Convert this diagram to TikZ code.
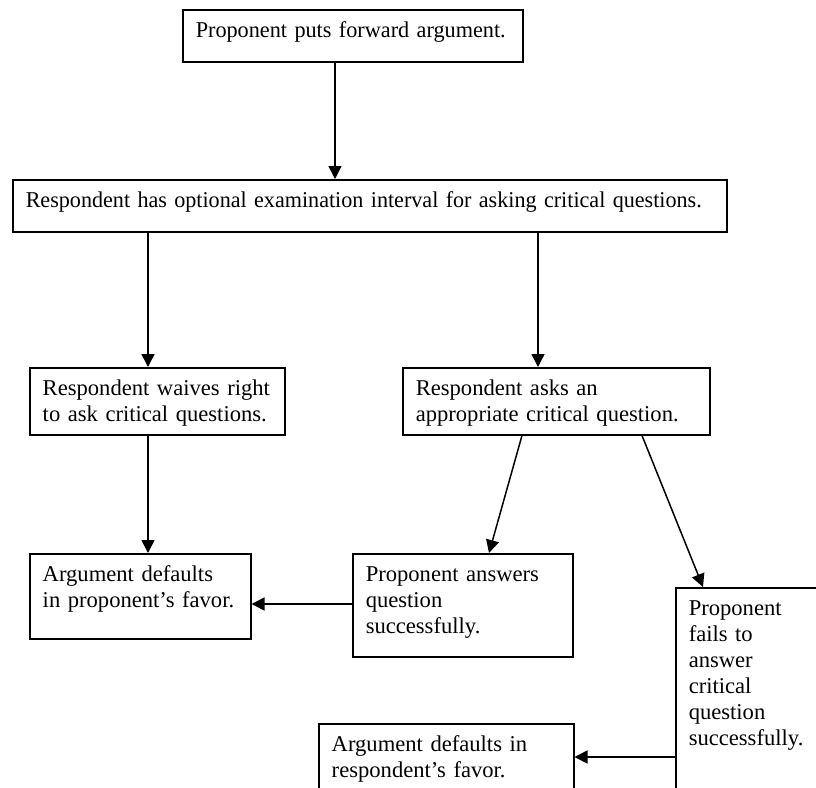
\documentclass[tikz,border=0pt]{standalone}
\usepackage{graphicx}
\usepackage{fontspec}
\setmainfont{Liberation Serif}
\usetikzlibrary{arrows.meta}

\begin{document}
\begin{tikzpicture}[x=.5pt, y=-.5pt, line width=.75pt, >={Triangle[length=6.5pt, width=6.5pt]},
	stage/.style={draw, anchor=north west, align=left, inner xsep=6.5pt, inner ysep=0pt,
		text height=14pt, font=\fontsize{11.3}{13}\selectfont}]
	\useasboundingbox (0, 0) rectangle (816, 788);
	\clip (0, 0) rectangle (816, 788);
	% boxes
	\node[stage, text width=157pt, text depth=12pt] (put) at (182, 9) {\resizebox{155pt}{\height}{Proponent puts forward argument.}};
	\node[stage, text width=344pt, text depth=12pt] (intv) at (12, 179) {\resizebox{338pt}{\height}{Respondent has optional examination interval for asking critical questions.}};
	\node[stage, text width=114.5pt, text depth=19.5pt] (waive) at (29, 367) {Respondent waives right\\to ask critical questions.};
	\node[stage, text width=140.5pt, text depth=19.5pt] (ask) at (402, 367) {Respondent asks an\\appropriate critical question.};
	\node[stage, text width=97.5pt, text depth=28.5pt] (pfavor) at (29, 553) {Argument defaults\\in proponent's favor.};
	\node[stage, text width=97pt, text depth=37.5pt] (answer) at (352, 553) {Proponent answers\\question\\successfully.};
	\node[stage, text width=67pt, text depth=111pt] (fail) at (675, 587) {Proponent\\fails to\\answer\\critical\\question\\successfully.};
	\node[stage, text width=114.5pt, text depth=36pt] (rfavor) at (318, 723) {Argument defaults in\\respondent's favor.};
	% arrows
	\draw[->] (335, 0 |- put.south) -- (335, 0 |- intv.north);
	\draw[->] (148, 0 |- intv.south) -- (148, 0 |- waive.north);
	\draw[->] (538, 0 |- intv.south) -- (538, 0 |- ask.north);
	\draw[->] (148, 0 |- waive.south) -- (148, 0 |- pfavor.north);
	\draw[->] (522, 0 |- ask.south) -- (489, 0 |- answer.north);
	\draw[->] (642, 0 |- ask.south) -- (703, 0 |- fail.north);
	\draw[->] (answer.west |- 0, 604) -- (pfavor.east |- 0, 604);
	\draw[->] (fail.west |- 0, 757) -- (rfavor.east |- 0, 757);
\end{tikzpicture}
\end{document}
